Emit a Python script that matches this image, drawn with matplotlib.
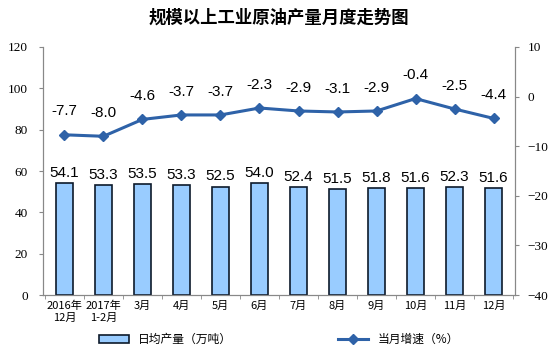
import matplotlib.pyplot as plt
import numpy as np

plt.rcParams['font.family'] = ['Liberation Serif', 'Noto Sans CJK SC']

months = ["2016年\n12月", "2017年\n1-2月", "3月", "4月", "5月", "6月", "7月",
          "8月", "9月", "10月", "11月", "12月"]
daily_output = [54.1, 53.3, 53.5, 53.3, 52.5, 54.0, 52.4, 51.5, 51.8, 51.6, 52.3, 51.6]
growth = [-7.7, -8.0, -4.6, -3.7, -3.7, -2.3, -2.9, -3.1, -2.9, -0.4, -2.5, -4.4]

BAR_COLOR = "#99ccff"
LINE_COLOR = "#2e62a8"
cjk = ['Noto Sans CJK SC', 'Liberation Sans']

fig = plt.figure(figsize=(5.58, 3.53), dpi=100)
ax = fig.add_axes([0.077, 0.164, 0.846, 0.703])
x = np.arange(len(months))

ax.bar(x, daily_output, width=0.42, color=BAR_COLOR, edgecolor="#0d1a2b",
       linewidth=1.2, label="日均产量（万吨）", zorder=2)
for xi, v in zip(x, daily_output):
    ax.text(xi, v + 1.5, f"{v:.1f}", ha="center", va="bottom",
            fontsize=11, family='Liberation Sans')

ax.set_xlim(-0.55, len(months) - 0.45)
ax.set_ylim(0, 120)
ax.set_yticks(range(0, 121, 20))
ax.set_xticks(x)
ax.set_xticklabels(months, family=cjk, fontsize=8)
ax.set_xticks(np.arange(-0.5, len(months), 1), minor=True)
ax.tick_params(axis='x', which='major', length=0, pad=4)
ax.tick_params(axis='x', which='minor', length=3, color="#888888")
ax.tick_params(axis='y', length=3, color="#888888", labelsize=9.5, pad=8)
ax.spines["top"].set_visible(False)
for side in ("left", "bottom", "right"):
    ax.spines[side].set_color("#888888")

ax2 = ax.twinx()
ax2.plot(x, growth, color=LINE_COLOR, linewidth=2.2, marker="D", markersize=5,
         label="当月增速（%）", zorder=3)
for xi, v in zip(x, growth):
    ax2.text(xi, v + 3.3, f"{v:.1f}", ha="center", va="bottom",
             fontsize=11, family='Liberation Sans')
ax2.set_ylim(-40, 10)
ax2.set_yticks(range(-40, 11, 10))
ax2.tick_params(axis='y', length=3, color="#888888", labelsize=9.5, pad=6)
ax2.spines["top"].set_visible(False)
for side in ("left", "bottom", "right"):
    ax2.spines[side].set_color("#888888")

fig.suptitle("规模以上工业原油产量月度走势图", y=0.975, fontsize=12.5,
             family=cjk, fontweight="semibold")

h1, l1 = ax.get_legend_handles_labels()
h2, l2 = ax2.get_legend_handles_labels()
fig.legend(h1 + h2, l1 + l2, loc="lower center", ncol=2, frameon=False,
           bbox_to_anchor=(0.5, -0.01), prop={'family': cjk, 'size': 8.5},
           columnspacing=9, handlelength=2.5)

fig.savefig("out.png", dpi=100)
